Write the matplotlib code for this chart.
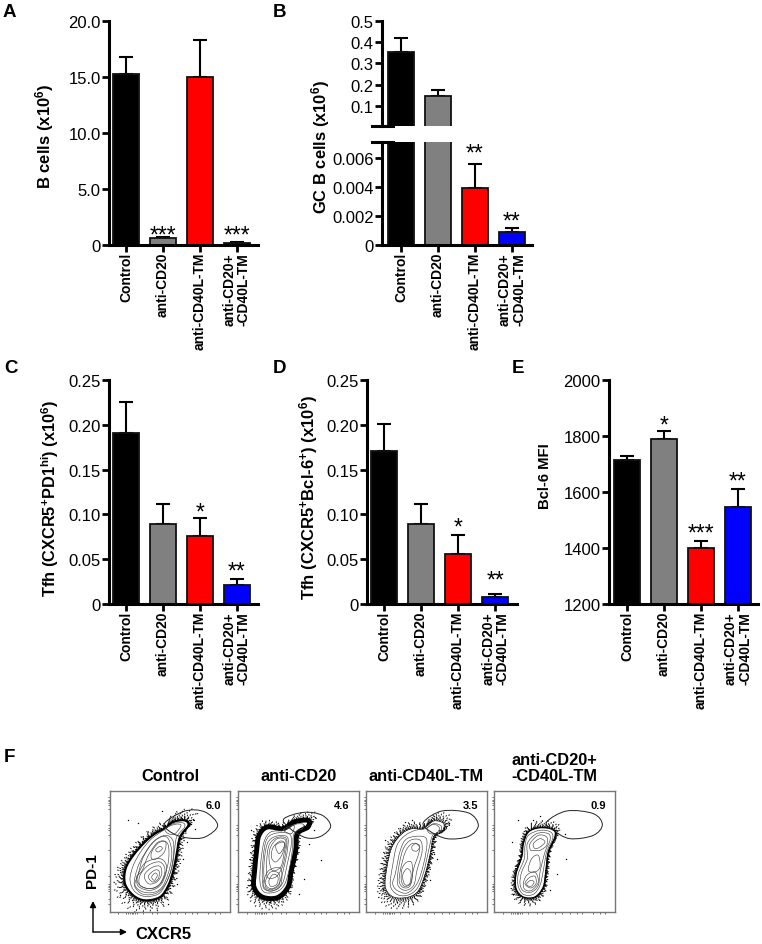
import numpy as np
import matplotlib
matplotlib.use("Agg")
import matplotlib.pyplot as plt
from matplotlib.path import Path
from matplotlib.patches import PathPatch, FancyArrowPatch
from matplotlib.transforms import Affine2D

plt.rcParams['font.family'] = ['Liberation Sans', 'DejaVu Sans']
plt.rcParams['mathtext.fontset'] = 'custom'
plt.rcParams['mathtext.rm'] = 'Liberation Sans'
plt.rcParams['mathtext.bf'] = 'Liberation Sans:bold'
plt.rcParams['mathtext.default'] = 'bf'

W, H = 762, 945

# bar data
groups = ['Control', 'anti-CD20', 'anti-CD40L-TM', 'anti-CD20+\n-CD40L-TM']
bar_colors = ['#000000', '#808080', '#ff0000', '#0000ff']

a_vals = [15.3, 0.6, 15.0, 0.2]
a_errs = [1.5, 0.15, 3.3, 0.1]
a_stars = ['', '***', '', '***']
a_star_y = [0, 0.35, 0, 0.35]

b_vals = [0.355, 0.148, 0.0039, 0.0009]
b_errs = [0.067, 0.027, 0.0017, 0.00025]
b_stars = ['', '', '**', '**']
b_star_y = [0, 0, 0.0059, 0.0012]

c_vals = [0.191, 0.089, 0.076, 0.021]
c_errs = [0.034, 0.023, 0.020, 0.007]
c_stars = ['', '', '*', '**']
c_star_y = [0, 0, 0.095, 0.030]

d_vals = [0.171, 0.089, 0.056, 0.008]
d_errs = [0.030, 0.023, 0.021, 0.003]
d_stars = ['', '', '*', '**']
d_star_y = [0, 0, 0.079, 0.020]

e_vals = [1715, 1790, 1400, 1545]
e_errs = [12, 28, 25, 65]
e_stars = ['', '*', '***', '**']
e_star_y = [0, 1815, 1430, 1615]

# flow panels, outlines
flow_titles = ['Control', 'anti-CD20', 'anti-CD40L-TM', 'anti-CD20+\n-CD40L-TM']
flow_pcts = ['6.0', '4.6', '3.5', '0.9']
flow_box = [(110, 230), (238, 359), (366, 487), (494, 615)]
flow_crop = [105, 234, 362, 490]

gates = [
    [(178, 110), (240, 72), (300, 75), (338, 115), (300, 150), (250, 153), (205, 140)],
    [(150, 95), (210, 76), (265, 85), (290, 118), (260, 148), (215, 152), (165, 122)],
    [(185, 105), (240, 72), (320, 78), (349, 115), (320, 148), (255, 155), (200, 130)],
    [(170, 105), (230, 72), (310, 80), (337, 113), (310, 145), (240, 155), (190, 130)],
]

bands = [
    [(178, 125), (205, 105), (238, 100), (250, 115), (225, 150), (215, 200), (205, 250), (190, 295),
     (165, 330), (120, 340), (85, 325), (60, 290), (62, 245), (85, 205), (120, 165), (150, 140)],
    [(147, 125), (180, 105), (222, 100), (222, 120), (190, 140), (185, 190), (172, 250), (162, 300),
     (130, 332), (85, 330), (60, 300), (62, 250), (68, 190), (75, 145), (100, 120)],
    [(183, 125), (215, 102), (245, 110), (240, 135), (215, 150), (205, 200), (190, 260), (170, 310),
     (140, 330), (95, 330), (70, 300), (75, 240), (90, 180), (120, 140), (150, 125)],
    [(115, 135), (150, 122), (190, 128), (195, 150), (175, 195), (168, 250), (160, 300), (135, 330),
     (100, 330), (78, 305), (78, 260), (95, 210), (100, 170)],
]
band_widths = [1.5, 3.5, 0.4, 1.0]

contours = [
    [
        [(178, 128), (205, 110), (235, 108), (238, 122), (215, 150), (208, 195), (200, 245), (180, 295),
         (158, 322), (118, 328), (88, 312), (75, 278), (85, 235), (110, 190), (140, 155)],
        [(180, 125), (210, 112), (228, 115), (210, 140), (190, 140)],
        [(90, 270), (105, 225), (140, 170), (180, 145), (205, 165), (202, 230), (185, 285), (155, 318),
         (115, 322), (90, 300)],
        [(100, 260), (115, 210), (150, 160), (185, 150), (200, 190), (195, 240), (175, 295), (150, 315),
         (115, 315), (90, 295)],
        [(112, 250), (130, 205), (160, 165), (188, 170), (190, 225), (170, 285), (140, 305), (105, 295),
         (95, 270)],
        [(98, 268), (120, 228), (165, 215), (185, 240), (170, 290), (137, 310), (100, 298)],
        [(105, 265), (130, 235), (165, 225), (180, 250), (165, 290), (135, 305), (105, 295)],
        [(118, 265), (140, 242), (165, 238), (170, 262), (155, 285), (130, 290)],
        [(130, 268), (148, 250), (162, 252), (160, 275), (143, 285)],
        [(140, 270), (150, 258), (157, 265), (148, 280)],
        [(140, 195), (160, 168), (182, 165), (178, 195), (155, 215), (140, 215)],
        [(152, 188), (165, 178), (172, 185), (160, 195)],
    ],
    [
        [(150, 130), (185, 112), (208, 112), (205, 125), (180, 140), (175, 190), (165, 250), (150, 295),
         (125, 315), (90, 315), (78, 285), (80, 230), (90, 165), (110, 135)],
        [(95, 165), (120, 140), (165, 140), (172, 170), (160, 230), (145, 290), (115, 312), (90, 300),
         (85, 250)],
        [(100, 170), (125, 148), (160, 150), (160, 190), (150, 240), (135, 290), (110, 305), (92, 285),
         (90, 230)],
        [(105, 175), (128, 152), (157, 155), (155, 195), (145, 240), (125, 270), (100, 270), (98, 225)],
        [(110, 180), (130, 155), (155, 160), (150, 200), (140, 240), (115, 250), (105, 215)],
        [(118, 180), (140, 162), (152, 172), (143, 205), (125, 225), (112, 210)],
        [(125, 175), (148, 165), (150, 180), (135, 200)],
        [(88, 285), (105, 250), (140, 245), (140, 295), (112, 312), (90, 305)],
        [(95, 280), (110, 255), (135, 260), (135, 295), (110, 308), (95, 300)],
        [(105, 280), (118, 262), (132, 270), (128, 292), (110, 298)],
        [(148, 128), (180, 115), (172, 140)],
    ],
    [
        [(190, 125), (215, 110), (238, 118), (232, 138), (212, 145), (200, 190), (185, 255), (165, 305),
         (135, 325), (105, 322), (85, 295), (92, 235), (105, 175), (130, 145), (160, 130)],
        [(100, 260), (115, 190), (135, 155), (180, 148), (195, 165), (185, 230), (165, 290), (135, 318),
         (105, 310), (92, 290)],
        [(108, 255), (122, 190), (145, 160), (175, 160), (180, 195), (165, 250), (155, 295), (130, 310),
         (108, 295)],
        [(115, 250), (130, 195), (150, 170), (172, 175), (170, 200), (155, 245), (145, 295), (125, 302),
         (112, 285)],
        [(120, 245), (135, 225), (150, 230), (148, 285), (128, 298), (118, 280)],
        [(122, 265), (135, 245), (147, 258), (143, 290), (128, 292)],
        [(150, 178), (162, 170), (172, 180), (165, 192), (152, 190)],
        [(195, 125), (215, 112), (232, 122), (225, 137), (205, 140)],
    ],
    [
        [(115, 145), (150, 130), (182, 135), (188, 155), (170, 195), (160, 250), (150, 295), (130, 322),
         (100, 322), (84, 295), (85, 260), (103, 215), (105, 175)],
        [(112, 170), (140, 140), (175, 140), (180, 160), (165, 195), (150, 255), (145, 295), (125, 315),
         (100, 312), (90, 290), (95, 255), (112, 215)],
        [(120, 170), (145, 145), (170, 150), (170, 175), (150, 190), (135, 190), (122, 190)],
        [(130, 170), (150, 155), (165, 165), (150, 180), (135, 185)],
        [(100, 290), (110, 265), (135, 255), (145, 285), (125, 310), (105, 308)],
        [(105, 290), (118, 272), (135, 268), (138, 290), (122, 303)],
        [(110, 290), (122, 280), (132, 285), (125, 297), (115, 297)],
        [(125, 215), (145, 205), (150, 240), (135, 255), (115, 250)],
    ],
]

# a few stray events outside the dense part
strays = [
    [(172, 72), (100, 108), (70, 100), (258, 110), (270, 125), (245, 165), (235, 215), (215, 290), (45, 325), (190, 350)],
    [(225, 95), (240, 130), (225, 170), (262, 220), (210, 275), (195, 320), (48, 215), (50, 130), (105, 345)],
    [(150, 98), (128, 105), (262, 108), (215, 200), (225, 215), (205, 280), (62, 305), (70, 160), (105, 345)],
    [(150, 88), (130, 98), (85, 100), (228, 215), (200, 260), (65, 165), (70, 320), (180, 310), (225, 140)],
]
halo_scales = [
    [1.02, 1.04, 1.06, 1.08, 1.10, 1.13, 1.16, 1.20, 1.25, 1.30],
    [1.02, 1.04, 1.06, 1.08, 1.10, 1.13, 1.16, 1.20, 1.24],
    [1.02, 1.05, 1.08, 1.11, 1.15, 1.19, 1.24],
    [1.02, 1.04, 1.06, 1.09, 1.12, 1.16, 1.20],
]

left_minor = [30, 38, 42, 48, 55, 65, 115, 122, 130, 145, 190, 268, 290, 296, 300, 305, 312, 335, 352]
bottom_minor = [40, 62, 70, 75, 80, 85, 90, 95, 115, 140, 155, 195, 215, 240, 262, 275, 310, 330, 345]


def px_axes(x0, y0, x1, y1):
    return fig.add_axes([x0 / W, 1 - y1 / H, (x1 - x0) / W, (y1 - y0) / H])


def closed_path(pts):
    # smooth closed curve through the points
    p = np.array(pts, dtype=float)
    n = len(p)
    verts = [p[0]]
    codes = [Path.MOVETO]
    for i in range(n):
        p0, p1, p2, p3 = p[i - 1], p[i], p[(i + 1) % n], p[(i + 2) % n]
        verts += [p1 + (p2 - p0) / 6, p2 - (p3 - p1) / 6, p2]
        codes += [Path.CURVE4] * 3
    return Path(verts, codes)


def style_bar_axes(ax, xlim):
    ax.set_xlim(*xlim)
    for side in ['top', 'right']:
        ax.spines[side].set_visible(False)
    for side in ['left', 'bottom']:
        ax.spines[side].set_linewidth(2.2)
    ax.tick_params(axis='y', width=2.0, length=5, labelsize=12, pad=1)
    ax.tick_params(axis='x', width=2.0, length=5, pad=0)
    ax.set_xticks(range(4))
    ax.set_xticklabels(groups, rotation=90, fontsize=10, fontweight='bold',
                       va='top', ha='center', multialignment='right', linespacing=1.0)
    ax.patch.set_alpha(0)


def draw_bars(ax, idx, vals, errs):
    ax.errorbar(idx, vals, yerr=[[0] * len(idx), errs], fmt='none', ecolor='black',
                elinewidth=1.5, capsize=5, capthick=1.5, zorder=1)
    ax.bar(idx, vals, width=0.7, color=[bar_colors[j] for j in idx], edgecolor='#111111',
           linewidth=1.3, zorder=2)


def draw_stars(ax, stars, star_y):
    for i in range(4):
        if stars[i]:
            ax.text(i, star_y[i], stars[i], ha='center', va='baseline', fontsize=16.5, zorder=3)


fig = plt.figure(figsize=(W / 100, H / 100), dpi=100)

# A
ax = px_axes(109, 22, 258, 246)
draw_bars(ax, [0, 1, 2, 3], a_vals, a_errs)
style_bar_axes(ax, (-0.46, 3.57))
ax.set_ylim(0, 20)
ax.set_yticks([0, 5, 10, 15, 20])
ax.set_yticklabels(['0', '5.0', '10.0', '15.0', '20.0'])
draw_stars(ax, a_stars, a_star_y)

# B, broken axis
ax_top = px_axes(382, 22, 532, 127)
draw_bars(ax_top, [0, 1], b_vals[:2], b_errs[:2])
style_bar_axes(ax_top, (-0.51, 3.54))
ax_top.set_ylim(0.0057, 0.5)
ax_top.set_yticks([0.1, 0.2, 0.3, 0.4, 0.5])
ax_top.set_yticklabels(['0.1', '0.2', '0.3', '0.4', '0.5'])
ax_top.spines['bottom'].set_visible(False)
ax_top.set_xticks([])
ax_top.plot([-0.07, 0.075], [0, 0], transform=ax_top.transAxes, color='black', lw=2.2, clip_on=False)

ax_low = px_axes(382, 143, 532, 246)
draw_bars(ax_low, [0, 1], b_vals[:2], [0, 0])
draw_bars(ax_low, [2, 3], b_vals[2:], b_errs[2:])
style_bar_axes(ax_low, (-0.51, 3.54))
ax_low.set_ylim(0, 0.0071)
ax_low.set_yticks([0, 0.002, 0.004, 0.006])
ax_low.set_yticklabels(['0', '0.002', '0.004', '0.006'])
ax_low.plot([-0.07, 0.075], [1, 1], transform=ax_low.transAxes, color='black', lw=2.2, clip_on=False)
draw_stars(ax_low, b_stars, b_star_y)

# C
ax = px_axes(109, 381, 258, 605)
draw_bars(ax, [0, 1, 2, 3], c_vals, c_errs)
style_bar_axes(ax, (-0.46, 3.57))
ax.set_ylim(0, 0.25)
ax.set_yticks([0, 0.05, 0.10, 0.15, 0.20, 0.25])
ax.set_yticklabels(['0', '0.05', '0.10', '0.15', '0.20', '0.25'])
draw_stars(ax, c_stars, c_star_y)

# D
ax = px_axes(367, 381, 517, 605)
draw_bars(ax, [0, 1, 2, 3], d_vals, d_errs)
style_bar_axes(ax, (-0.46, 3.59))
ax.set_ylim(0, 0.25)
ax.set_yticks([0, 0.05, 0.10, 0.15, 0.20, 0.25])
ax.set_yticklabels(['0', '0.05', '0.10', '0.15', '0.20', '0.25'])
draw_stars(ax, d_stars, d_star_y)

# E
ax = px_axes(609, 381, 758, 605)
draw_bars(ax, [0, 1, 2, 3], e_vals, e_errs)
style_bar_axes(ax, (-0.49, 3.54))
ax.set_ylim(1200, 2000)
ax.set_yticks([1200, 1400, 1600, 1800, 2000])
draw_stars(ax, e_stars, e_star_y)

# F, flow plots
for i in range(4):
    x0, x1 = flow_box[i]
    ax = px_axes(x0, 792, x1, 913)
    crop = flow_crop[i]
    ax.set_xlim((x0 - crop) * 3, (x1 - crop) * 3)
    ax.set_ylim(375, 12)
    for s in ax.spines.values():
        s.set_color('#777777')
        s.set_linewidth(1.0)
    ax.set_xticks(bottom_minor)
    ax.set_yticks(left_minor)
    ax.tick_params(length=1.5, width=0.5, color='#333333', labelbottom=False, labelleft=False)

    band = closed_path(bands[i])
    cx, cy = np.mean(bands[i], axis=0)
    for k, scale in enumerate(halo_scales[i]):
        tr = Affine2D().translate(-cx, -cy).scale(scale).translate(cx, cy) + ax.transData
        ax.add_patch(PathPatch(band, fill=False, lw=1.15, ec='black', transform=tr,
                               ls=(k * 0.7, (0.55, 0.5 + 0.42 * k))))
    ax.add_patch(PathPatch(band, fill=False, lw=band_widths[i], ec='black', zorder=2))
    for loop in contours[i]:
        ax.add_patch(PathPatch(closed_path(loop), fill=False, lw=0.45, ec='#444444', zorder=3))
    ax.add_patch(PathPatch(closed_path(gates[i]), fill=False, lw=0.7, ec='#222222', zorder=4))
    ax.plot([p[0] for p in strays[i]], [p[1] for p in strays[i]], ls='none', marker='.', ms=2,
            color='black', mew=0)
    ax.text(0.86, 0.885, flow_pcts[i], transform=ax.transAxes, ha='center', va='center',
            fontsize=8, fontweight='bold')
    fig.text((x0 + x1) / 2 / W, 1 - 781 / H, flow_titles[i], ha='center', va='baseline',
             fontsize=11.8, fontweight='bold', multialignment='center', linespacing=1.1)

# panel letters and axis titles
for letter, x, y in [('A', 3, 17), ('B', 273, 17), ('C', 4, 373), ('D', 273, 373), ('E', 512, 373), ('F', 4, 762)]:
    fig.text(x / W, 1 - y / H, letter, fontsize=13.5, fontweight='bold')

for label, x, y, size in [
    (r'B cells (x10$^{6}$)', 45, 136, 12.0),
    (r'GC B cells (x10$^{6}$)', 321, 147, 11.9),
    (r'Tfh (CXCR5$^{+}$PD1$^{hi}$) (x10$^{6}$)', 50, 498, 11.8),
    (r'Tfh (CXCR5$^{+}$Bcl-6$^{+}$) (x10$^{6}$)', 309, 497, 12.0),
    ('Bcl-6 MFI', 545, 476, 10.7),
]:
    fig.text(x / W, 1 - y / H, label, rotation=90, ha='center', va='center', fontsize=size, fontweight='bold')

fig.text(92 / W, 1 - 871 / H, 'PD-1', rotation=90, ha='center', va='center', fontsize=11, fontweight='bold')
fig.text(163 / W, 1 - 935 / H, 'CXCR5', ha='center', va='center', fontsize=12, fontweight='bold')
for end in [(93, 902), (127, 933)]:
    fig.add_artist(FancyArrowPatch(
        (93 / W, 1 - 933 / H), (end[0] / W, 1 - end[1] / H), transform=fig.transFigure,
        arrowstyle='-|>', mutation_scale=9, lw=1.0, color='black', shrinkA=0, shrinkB=0))

fig.savefig('out.png', dpi=100)
